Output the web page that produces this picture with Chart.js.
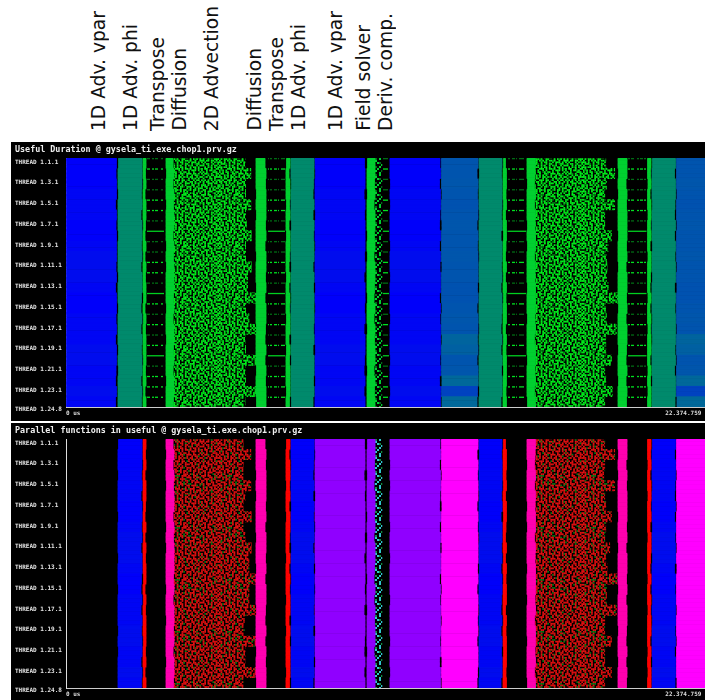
<!DOCTYPE html>
<html>
<head>
<meta charset="utf-8">
<title>gysela_ti trace</title>
<script src="https://cdn.jsdelivr.net/npm/chart.js@4"></script>
<style>
  html, body { margin: 0; padding: 0; background: #fff; overflow: hidden; }
  canvas { position: absolute; left: 11px; background: #000; }
  #useful { top: 142px; }
  #parallel { top: 423px; }
  .phase {
    position: absolute; bottom: 569px; width: 24px; line-height: 24px;
    writing-mode: vertical-rl; transform: rotate(180deg);
    font-family: "DejaVu Sans"; font-size: 18.7px; color: #111; white-space: nowrap;
  }
</style>
</head>
<body>
<div class="phase" style="left:87px">1D Adv. vpar</div>
<div class="phase" style="left:119px">1D Adv. phi</div>
<div class="phase" style="left:146px">Transpose</div>
<div class="phase" style="left:168px">Diffusion</div>
<div class="phase" style="left:200px">2D Advection</div>
<div class="phase" style="left:243px">Diffusion</div>
<div class="phase" style="left:265px">Transpose</div>
<div class="phase" style="left:287px">1D Adv. phi</div>
<div class="phase" style="left:324px">1D Adv. vpar</div>
<div class="phase" style="left:352px">Field solver</div>
<div class="phase" style="left:374px">Deriv. comp.</div>
<canvas id="useful" width="694" height="279"></canvas>
<canvas id="parallel" width="694" height="277"></canvas>
<script>
// All times are in thousands of us
const traceEnd = 22374.759;
const nodeCount = 24;
const threadsPerNode = 8;

// Solid phases, same order in both timelines
const bandStarts = [0, 1821, 2696, 3502, 6653, 7703, 7878, 8719, 10540, 11345, 13148, 14461, 15302, 16142, 19329, 20362, 20519, 21377];
const bandEnds = [1768, 2661, 2801, 3782, 7003, 7843, 8684, 10470, 10820, 13113, 14426, 15267, 15424, 16440, 19644, 20484, 21342, 22374.759];
const usefulStates = ['blue', 'teal', 'green', 'green', 'green', 'green', 'teal', 'blue', 'green', 'blue', 'midblue', 'teal', 'green', 'green', 'green', 'green', 'teal', 'midblue'];
const parallelStates = [null, 'blue', 'red', 'pink', 'pink', 'red', 'blue', 'violet', 'violet', 'violet', 'magenta', 'blue', 'red', 'pink', 'pink', 'red', 'blue', 'magenta'];

// Per node wobble of the phase edges
const startWobble = [0, 18, 0, 0, 0, 18, 0, 0, 18, 0, 0, 0, 18, 0, 0, 0, 18, 0, 0, 18, 0, 0, 0, 18];
const endWobble = [0, -18, 0, 0, -35, 0, -18, 0, 0, 0, -18, 0, -35, 0, 0, -18, 0, -35, 0, 0, -18, -35, 0, -35];

// Colour level of the blue phases, per node
const blueLevels = [0, 0, 0, 6, 6, 6, 0, 0, 6, 12, 12, 12, 6, 0, 0, 6, 6, 6, 12, 12, 6, 6, 12, 6];
const midBlueLevels = [84, 84, 86, 84, 82, 84, 86, 84, 84, 86, 84, 84, 82, 82, 84, 86, 84, 100, 96, 84, 86, 104, 66, 104];

// 2D advection: where the dense region stops on each node
const advectionStarts = [3782, 16440];
const usefulAdvectionEnds = [
  [6265, 6475, 6288, 6288, 6475, 6288, 6323, 6498, 6288, 6288, 6498, 6358, 6358, 6673, 6288, 6405, 6673, 6265, 6288, 6638, 6265, 6288, 6638, 6265],
  [18900, 19215, 18923, 18865, 19215, 18865, 18865, 19098, 18982, 18923, 18947, 18923, 18982, 19332, 18900, 18923, 19273, 18900, 18900, 19098, 18865, 18900, 19134, 18865]
];
const parallelAdvectionEnds = [
  [6207, 6475, 6207, 6207, 6475, 6265, 6207, 6498, 6207, 6265, 6498, 6405, 6405, 6673, 6405, 6405, 6638, 6242, 6242, 6673, 6265, 6265, 6673, 6207],
  [18865, 19215, 18865, 18830, 19215, 18865, 18900, 19098, 18900, 18865, 19040, 18900, 18947, 19297, 18923, 18923, 19273, 18865, 18865, 19098, 18865, 18865, 19098, 18865]
];

// Field solver tail
const solverStart = 10820;
const solverEnd = 11060;

// Transpose gaps: one dashed thread per node, useful timeline only
const dashStarts = [2836, 7073, 11095, 15459, 19679];
const dashEnds = [3431, 7668, 11310, 16107, 20327];
const dashKinds = [0, 1, 0, 0, 1, 1, 0, 2, 0, 0, 1, 1, 0, 2, 1, 0, 1, 0, 1, 2, 0, 1, 1, 1];

// Texture of the dense regions. The single events are too small to read, so this
// is a hand typed fill tile and not one value per event. # strong, + weak, . nothing
const denseTile = [
  "##..#+++.###.#..##+..###.##..+#.",
  "#.#+#.#..#..###.#.##+.#...##.#+#",
  "..#.##+.###+..#..#+.#..###.#+#..",
  "#+..#.#..#.##+.##.#..##.#.+#..##",
  ".###..#+#.+.#..#.###.#..#..##.#.",
  "#..##.#.##+#.++..#..#+#.###.#..#",
  "##.#..+#.#..##.###+.+.#..#..###.",
  ".#.#+#.#...#.#..#.##..#+#.##.#.#",
  "#+.#.###.#+#.+###...#.#.#..#.##.",
  "#+#...#.#..##.#.#.###+.##.#+#..#",
  ".#.##+#..##...#.#+#.#.#..#.+.###",
  "#..#.#+#.#.##+#..#..###.##.##.#.",
  "##.#..#.##.+.#.###.#.#.#...#.#+#",
  ".###+.#..#.##..#.+##..#.##.+#..#",
  "#...#.#+#..#.#+#..#.###..#.#.##.",
  "##+##.#.##.#..#.##.#...#.#+#.#.#",
  ".#...###.#.##+#..#.#+#.##..#..##",
  "#+#.#..#.#...#.###.#.#..#.##+#..",
  "#.#.##.+#.##.#..#...#+#.#...###.",
  ".##..#..##+.###.##.#.#.##+.#..##",
  "#..#+#.#.#..#..#.##+..#..#.##.#.",
  "##.#.#.##.#+#.##..#.##.+#.#..###",
  ".#.##..#.#...#.#+#.#..#...##.#..",
  "#+#..###.##.+#..#.##.#+#.#.#.#+#",
  "##.##.#..#.#..##.#..#.#.##..#.#.",
  ".#..#.#+#..###.#.#+#..#..###.##.",
  "#+#.##.#.#.#...##..#.###.#.#...#",
  "#.#...#.##+.###.#.#+.#.##..#+#.#",
  ".##.##..#...#.#..#.###..#.#.#.##",
  "#..#.##+#.##.+#.##.#..##..#.##..",
  "##.#.#..#.#.#...#..#+#.#.###..##",
  ".#+#..##..###.#+#.#.#..#.#..+#.#"
];
const sparseTile = ["#.+.", "..#.", "+..#", ".#..", "#.+.", "...#", ".+#.", "#..."];
const dashTile = ["###..##.###...##.###.##..###.#..##"];

const stateColors = {
  blue: '#0000f8', teal: '#008a6c', green: '#00d030', midblue: '#0056ac',
  red: '#ff0000', pink: '#ff00b0', violet: '#9000ff', magenta: '#ff00ff'
};

// Canvas pattern from one of the typed tiles
function tilePattern(tile, cellW, cellH, strong, weak) {
  const tileCanvas = document.createElement('canvas');
  tileCanvas.width = Math.round(tile[0].length * cellW);
  tileCanvas.height = Math.round(tile.length * cellH);
  const tileCtx = tileCanvas.getContext('2d');
  tile.forEach((line, y) => {
    for (let x = 0; x < line.length; x++) {
      if (line[x] === '.') continue;
      tileCtx.fillStyle = line[x] === '#' ? strong : weak;
      tileCtx.fillRect(x * cellW, y * cellH, cellW, cellH);
    }
  });
  return tileCtx.createPattern(tileCanvas, 'repeat');
}

const threadLabels = [];
for (let n = 1; n <= nodeCount; n++) {
  for (let t = 1; t <= threadsPerNode; t++) {
    threadLabels.push('THREAD 1.' + n + '.' + t);
  }
}
const nodeOf = row => Math.floor(row / threadsPerNode);

function bandColor(state) {
  if (state === 'blue') {
    return c => 'rgb(0,' + blueLevels[nodeOf(c.dataIndex)] + ',' + (250 - blueLevels[nodeOf(c.dataIndex)]) + ')';
  }
  if (state === 'midblue') {
    return c => 'rgb(0,' + midBlueLevels[nodeOf(c.dataIndex)] + ',' + (258 - midBlueLevels[nodeOf(c.dataIndex)]) + ')';
  }
  return stateColors[state];
}

function rangeDataset(color, rangeOf) {
  return {
    data: threadLabels.map((_, row) => rangeOf(row)),
    backgroundColor: color,
    grouped: false,
    borderWidth: 0,
    barPercentage: 1,
    categoryPercentage: 1
  };
}

function buildDatasets(states, advectionEnds, densePattern, sparsePattern, withDashes, pick) {
  const sets = [];
  states.forEach((state, b) => {
    if (!state) return;
    sets.push(rangeDataset(bandColor(state), row => {
      const node = nodeOf(row);
      // the wobble does not line up from one phase to the next
      const start = b === 0 ? bandStarts[b] : bandStarts[b] + startWobble[(node + b * 5) % nodeCount];
      const end = b === states.length - 1 ? bandEnds[b] : bandEnds[b] + endWobble[(node + b * 7) % nodeCount];
      return [start, end];
    }));
  });
  advectionStarts.forEach((start, i) => {
    sets.push(rangeDataset(densePattern, row => [start, advectionEnds[i][nodeOf(row)]]));
  });
  sets.push(rangeDataset(sparsePattern, () => [solverStart, solverEnd]));
  if (withDashes) {
    dashStarts.forEach((start, i) => {
      const dashes = rangeDataset(
        c => pick[dashKinds[nodeOf(c.dataIndex)]],
        row => row % threadsPerNode === 0 ? [start, dashEnds[i]] : null
      );
      dashes.inflateAmount = 0;
      sets.push(dashes);
    });
  }
  return sets;
}

function makeTimeline(id, title, datasets, bottomHeight) {
  return new Chart(document.getElementById(id), {
    type: 'bar',
    data: { labels: threadLabels, datasets: datasets },
    options: {
      indexAxis: 'y',
      responsive: false,
      animation: false,
      events: [],
      layout: { padding: { left: 4, right: 0, top: 0, bottom: 0 } },
      plugins: {
        legend: { display: false },
        tooltip: { enabled: false },
        title: {
          display: true,
          text: title,
          align: 'start',
          color: '#eeeeee',
          font: { family: '"DejaVu Sans Mono"', size: 8.4, weight: 'bold', lineHeight: '10px' },
          padding: { top: 3, bottom: 3 }
        }
      },
      scales: {
        x: {
          type: 'linear',
          min: 0,
          max: traceEnd,
          grid: { drawOnChartArea: false, drawTicks: false },
          border: { color: '#cccccc', width: 1 },
          afterBuildTicks: scale => { scale.ticks = [{ value: 0 }, { value: traceEnd }]; },
          afterFit: scale => {
            scale.height = bottomHeight;
            scale.paddingLeft = 0;
            scale.paddingRight = 0;
          },
          ticks: {
            autoSkip: false,
            maxRotation: 0,
            align: 'inner',
            padding: 3,
            color: '#dddddd',
            font: { family: '"DejaVu Sans Mono"', size: 6, weight: 'bold' },
            callback: v => v === 0 ? '0 us' : '22.374.759 '
          }
        },
        y: {
          type: 'category',
          offset: true,
          grid: { drawOnChartArea: false, drawTicks: false },
          border: { color: '#dddddd', width: 1 },
          afterFit: scale => {
            scale.width = 51;
            scale.paddingTop = 0;
            scale.paddingBottom = 0;
          },
          ticks: {
            autoSkip: false,
            crossAlign: 'far',
            padding: 0,
            color: '#e4e4e4',
            font: { family: '"DejaVu Sans Mono"', size: 6, weight: 'bold', lineHeight: '6.6px' },
            // empty first line pushes the text just under the thread's row
            callback: function(value, index) {
              const last = threadLabels.length - 1;
              if (index % 16 === 0 || index === last) return ['', this.getLabelForValue(value)];
              return null;
            }
          }
        }
      }
    }
  });
}

const dashPatterns = [
  tilePattern(dashTile, 1, 2, '#006a14', '#006a14'),
  tilePattern(dashTile, 1, 2, '#00e020', '#00e020'),
  '#00d020'
];

makeTimeline('useful', 'Useful Duration @ gysela_ti.exe.chop1.prv.gz',
  buildDatasets(usefulStates, usefulAdvectionEnds,
    tilePattern(denseTile, 1.625, 1.625, '#00f01c', '#007a14'),
    tilePattern(sparseTile, 2, 2, '#00d030', '#006c18'),
    true, dashPatterns), 14);

makeTimeline('parallel', 'Parallel functions in useful @ gysela_ti.exe.chop1.prv.gz',
  buildDatasets(parallelStates, parallelAdvectionEnds,
    tilePattern(denseTile, 1.625, 1.625, '#e01010', '#0a7a14'),
    tilePattern(sparseTile, 2, 2, '#30c8d0', '#109040'),
    false, dashPatterns), 12);
</script>
</body>
</html>
